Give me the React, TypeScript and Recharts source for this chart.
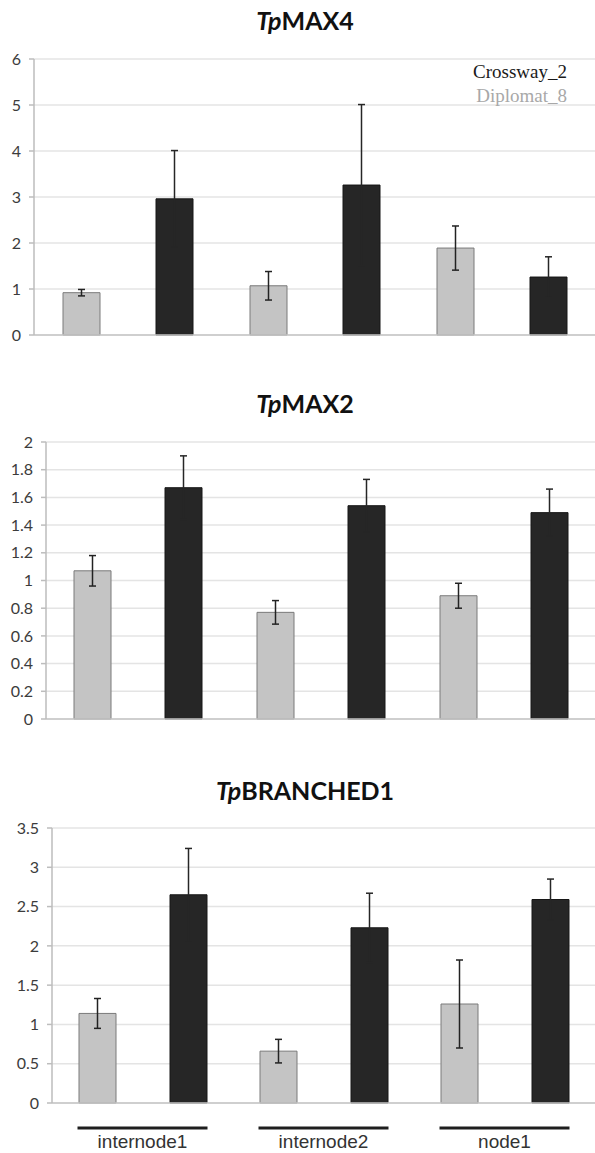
import React from 'react';
import { BarChart, Bar, XAxis, YAxis, CartesianGrid, ErrorBar, Legend } from 'recharts';

const categories = ['internode1', 'internode2', 'node1'];

// TpMAX4
const max4Diplomat = [0.92, 1.07, 1.89];
const max4DiplomatErr = [0.07, 0.31, 0.48];
const max4Crossway = [2.96, 3.26, 1.26];
const max4CrosswayErr = [1.05, 1.75, 0.44];
const max4Ticks = [0, 1, 2, 3, 4, 5, 6];

// TpMAX2
const max2Diplomat = [1.07, 0.77, 0.89];
const max2DiplomatErr = [0.11, 0.085, 0.09];
const max2Crossway = [1.67, 1.54, 1.49];
const max2CrosswayErr = [0.23, 0.19, 0.17];
const max2Ticks = [0, 0.2, 0.4, 0.6, 0.8, 1, 1.2, 1.4, 1.6, 1.8, 2];

// TpBRANCHED1
const brc1Diplomat = [1.14, 0.66, 1.26];
const brc1DiplomatErr = [0.19, 0.15, 0.56];
const brc1Crossway = [2.65, 2.23, 2.59];
const brc1CrosswayErr = [0.59, 0.44, 0.26];
const brc1Ticks = [0, 0.5, 1, 1.5, 2, 2.5, 3, 3.5];

const legendOrder = ['Crossway_2', 'Diplomat_8'];

const GRAY = '#c4c4c4';
const BLACK = '#262626';

const buildRows = (dip: number[], dipErr: number[], cross: number[], crossErr: number[]) =>
  categories.map((name, i) => ({
    name,
    diplomat: dip[i],
    diplomatErr: dipErr[i],
    crossway: cross[i],
    crosswayErr: crossErr[i],
  }));

const GroupTick = ({ x, y, payload }: any) => (
  <g>
    <line x1={x - 65} x2={x + 65} y1={y + 25} y2={y + 25} stroke="#1e1e1e" strokeWidth={3} />
    <text x={x} y={y + 45} textAnchor="middle" fontFamily="'Liberation Sans', Arial, sans-serif" fontSize={19} fill="#333">
      {payload.value}
    </text>
  </g>
);

const LegendBox = ({ payload }: any) => {
  const items = [...(payload || [])].sort((a: any, b: any) => legendOrder.indexOf(a.value) - legendOrder.indexOf(b.value));
  return (
    <div style={{ fontFamily: "'Liberation Serif', 'Times New Roman', serif", fontSize: 19, lineHeight: '24px', textAlign: 'right' }}>
      {items.map((p: any) => (
        <div key={p.value} style={{ color: p.value === 'Crossway_2' ? '#1a1a1a' : '#a8a8a8' }}>{p.value}</div>
      ))}
    </div>
  );
};

interface GeneChartProps {
  top: number;
  height: number;
  marginTop: number;
  axisWidth: number;
  xAxisHeight: number;
  ticks: number[];
  rows: any[];
  barGap: number;
  showLabels?: boolean;
  showLegend?: boolean;
}

const GeneChart: React.FC<GeneChartProps> = ({ top, height, marginTop, axisWidth, xAxisHeight, ticks, rows, barGap, showLabels, showLegend }) => (
  <div style={{ position: 'absolute', left: 0, top }}>
    <BarChart width={595} height={height} data={rows} barGap={barGap} margin={{ top: marginTop, right: 0, bottom: 0, left: 0 }}>
      <CartesianGrid vertical={false} stroke="#e4e4e4" strokeWidth={1.5} />
      <XAxis
        dataKey="name"
        height={xAxisHeight}
        axisLine={{ stroke: '#c6c6c6', strokeWidth: 1.5 }}
        tickLine={false}
        tickSize={0}
        tickMargin={0}
        tick={showLabels ? <GroupTick /> : false}
        interval={0}
      />
      <YAxis
        width={axisWidth}
        domain={[ticks[0], ticks[ticks.length - 1]]}
        ticks={ticks}
        interval={0}
        axisLine={{ stroke: '#bdbdbd', strokeWidth: 1.5 }}
        tickLine={{ stroke: '#bdbdbd', strokeWidth: 1.5 }}
        tickSize={5}
        tickMargin={8}
        tick={{ fill: '#3c3c3c', fontSize: 16, fontFamily: 'Lato, sans-serif' }}
      />
      {showLegend && (
        <Legend
          layout="vertical"
          align="center"
          verticalAlign="middle"
          content={<LegendBox />}
          wrapperStyle={{ top: 60, right: 28, left: 'auto', width: 'auto' }}
        />
      )}
      <Bar dataKey="diplomat" name="Diplomat_8" fill={GRAY} stroke="#7a7a7a" strokeWidth={1} barSize={37} isAnimationActive={false}>
        <ErrorBar dataKey="diplomatErr" width={3.5} stroke="#222" strokeWidth={1.5} direction="y" />
      </Bar>
      <Bar dataKey="crossway" name="Crossway_2" fill={BLACK} stroke="#161616" strokeWidth={1} barSize={37} isAnimationActive={false}>
        <ErrorBar dataKey="crosswayErr" width={3.5} stroke={BLACK} strokeWidth={1.5} direction="y" />
      </Bar>
    </BarChart>
  </div>
);

const Title: React.FC<{ top: number; gene: string }> = ({ top, gene }) => (
  <div
    style={{
      position: 'absolute',
      left: 205,
      width: 200,
      top,
      textAlign: 'center',
      fontFamily: 'Lato, sans-serif',
      fontWeight: 700,
      fontSize: 25,
      lineHeight: '30px',
      color: '#111',
    }}
  >
    <i>Tp</i>
    {gene}
  </div>
);

const App: React.FC = () => (
  <div style={{ position: 'absolute', left: 0, top: 0, width: 595, height: 1153, background: '#fff', overflow: 'hidden' }}>
    <Title top={5} gene="MAX4" />
    <GeneChart
      top={0}
      height={350}
      marginTop={59}
      axisWidth={34}
      xAxisHeight={15}
      ticks={max4Ticks}
      rows={buildRows(max4Diplomat, max4DiplomatErr, max4Crossway, max4CrosswayErr)}
      barGap={56}
      showLegend
    />
    <Title top={388} gene="MAX2" />
    <GeneChart
      top={370}
      height={370}
      marginTop={72}
      axisWidth={46}
      xAxisHeight={21}
      ticks={max2Ticks}
      rows={buildRows(max2Diplomat, max2DiplomatErr, max2Crossway, max2CrosswayErr)}
      barGap={54}
    />
    <Title top={775} gene="BRANCHED1" />
    <GeneChart
      top={760}
      height={393}
      marginTop={68}
      axisWidth={52}
      xAxisHeight={50}
      ticks={brc1Ticks}
      rows={buildRows(brc1Diplomat, brc1DiplomatErr, brc1Crossway, brc1CrosswayErr)}
      barGap={54}
      showLabels
    />
  </div>
);

export default App;
